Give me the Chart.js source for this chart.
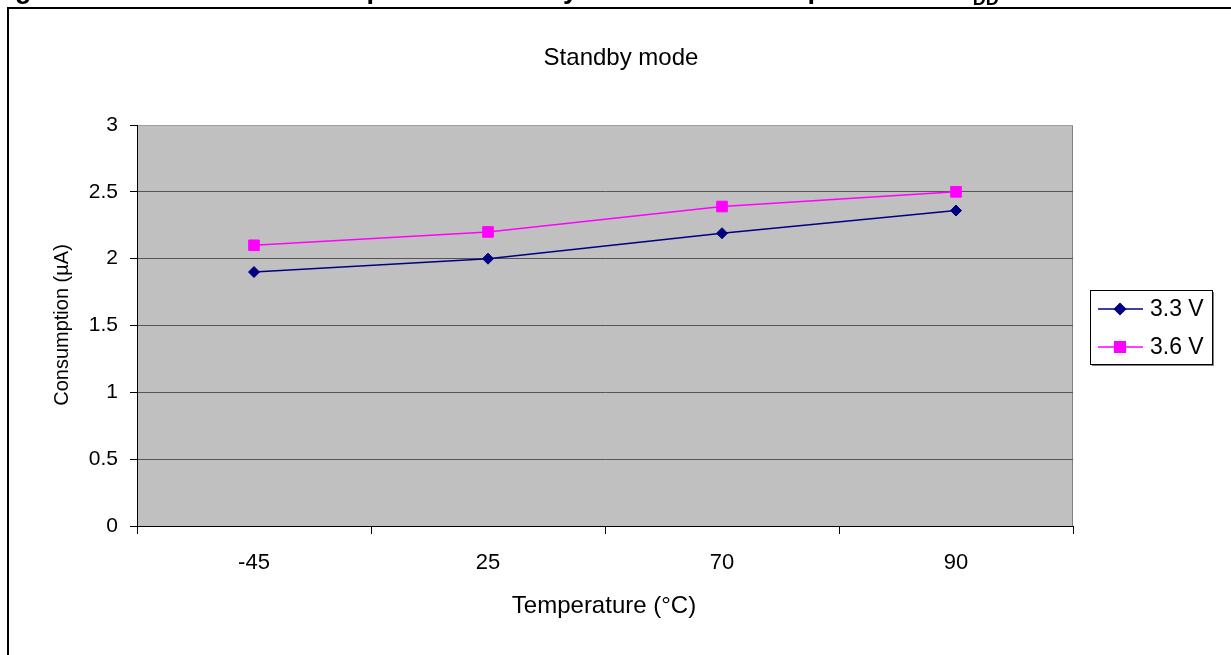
<!DOCTYPE html>
<html>
<head>
<meta charset="utf-8">
<style>
  html, body { margin: 0; padding: 0; background: #fff; overflow: hidden; }
  #wrap { position: relative; width: 1231px; height: 655px; }
  canvas { display: block; }
</style>
<script src="https://cdn.jsdelivr.net/npm/chart.js@4.4.1/dist/chart.umd.min.js"></script>
</head>
<body>
<div id="wrap"><canvas id="chart" width="1231" height="655"></canvas></div>
<script>
const temperatures = ["-45", "25", "70", "90"];
const consumption33 = [1.9, 2.0, 2.19, 2.36];
const consumption36 = [2.1, 2.2, 2.39, 2.5];
const seriesNames = ["3.3 V", "3.6 V"];
const yTicks = [0, 0.5, 1, 1.5, 2, 2.5, 3];
const chartTitle = "Standby mode";
const xTitle = "Temperature (°C)";
const yTitle = "Consumption (µA)";
const captionNumber = "Figure 10.";
const captionText = "Current consumption in Standby mode versus temperature at V";

const FONT = 'Arial, "Liberation Sans", sans-serif';

const frame = {
  id: "frame",
  beforeDraw(chart) {
    const { ctx, chartArea: a } = chart;
    ctx.save();
    ctx.fillStyle = "#fff";
    ctx.fillRect(0, 0, chart.width, chart.height);

    // caption of the page, cut off at the top edge
    ctx.fillStyle = "#000";
    ctx.textBaseline = "alphabetic";
    ctx.textAlign = "left";
    ctx.font = "bold 27px " + FONT;
    ctx.fillText(captionNumber, -9, -2);
    ctx.fillText(captionText, 158, -2);
    const w = ctx.measureText(captionText).width;
    ctx.font = "bold 18px " + FONT;
    ctx.fillText("DD", 158 + w, 5);

    // outer frame
    ctx.fillRect(7, 7, chart.width - 7, 2);
    ctx.fillRect(7, 7, 2, chart.height - 7);

    // plot area
    ctx.fillStyle = "#c0c0c0";
    ctx.fillRect(a.left, a.top, a.right - a.left, a.bottom - a.top);
    ctx.strokeStyle = "#808080";
    ctx.lineWidth = 1;
    ctx.strokeRect(a.left + 0.5, a.top + 0.5, a.right - a.left - 1, a.bottom - a.top);
    ctx.restore();
  },
  afterDraw(chart) {
    const { ctx } = chart;
    ctx.save();
    ctx.fillStyle = "#000";
    ctx.textAlign = "center";
    ctx.textBaseline = "middle";
    ctx.font = "24px " + FONT;
    ctx.fillText(chartTitle, 621, 58);
    ctx.fillText(xTitle, 604, 606);
    ctx.save();
    ctx.translate(62, 325);
    ctx.rotate(-Math.PI / 2);
    ctx.font = "20px " + FONT;
    ctx.fillText(yTitle, 0, 0);
    ctx.restore();

    // legend
    ctx.fillStyle = "#808080";
    ctx.fillRect(1092, 365, 122, 1);
    ctx.fillRect(1213, 292, 1, 74);
    ctx.fillStyle = "#fff";
    ctx.fillRect(1090, 290, 123, 75);
    ctx.strokeStyle = "#000";
    ctx.lineWidth = 1;
    ctx.strokeRect(1090.5, 290.5, 122, 74);
    const rows = [309, 347];
    chart.data.datasets.forEach((ds, i) => {
      const y = rows[i];
      ctx.strokeStyle = ds.borderColor;
      ctx.lineWidth = 1.5;
      ctx.beginPath();
      ctx.moveTo(1098, y);
      ctx.lineTo(1143, y);
      ctx.stroke();
      ctx.fillStyle = ds.pointBackgroundColor;
      ctx.strokeStyle = ds.borderColor;
      Chart.helpers.drawPoint(ctx, {
        pointStyle: ds.pointStyle,
        radius: ds.pointRadius,
        borderWidth: 1,
        rotation: 0
      }, 1120, y);
      ctx.fillStyle = "#000";
      ctx.textAlign = "left";
      ctx.font = "23px " + FONT;
      ctx.fillText(ds.label, 1150, y + 1);
    });
    ctx.restore();
  }
};

new Chart(document.getElementById("chart"), {
  type: "line",
  data: {
    labels: temperatures,
    datasets: [
      {
        label: seriesNames[0],
        data: consumption33,
        borderColor: "#000080",
        backgroundColor: "#000080",
        pointBackgroundColor: "#000080",
        pointBorderColor: "#000080",
        pointStyle: "rectRot",
        pointRadius: 5.5,
        pointBorderWidth: 1,
        borderWidth: 1.5,
        tension: 0
      },
      {
        label: seriesNames[1],
        data: consumption36,
        borderColor: "#ff00ff",
        backgroundColor: "#ff00ff",
        pointBackgroundColor: "#ff00ff",
        pointBorderColor: "#ff00ff",
        pointStyle: "rect",
        pointRadius: 7.5,
        pointBorderWidth: 1,
        borderWidth: 1.5,
        tension: 0
      }
    ]
  },
  options: {
    responsive: false,
    animation: false,
    layout: { padding: { left: 0, right: 158, top: 125, bottom: 0 } },
    plugins: {
      legend: { display: false },
      title: { display: false },
      tooltip: { enabled: false }
    },
    scales: {
      x: {
        type: "category",
        offset: true,
        grid: {
          offset: true,
          drawOnChartArea: false,
          drawTicks: true,
          tickLength: 8,
          tickColor: "#000"
        },
        border: { display: true, color: "#000", width: 1 },
        ticks: {
          color: "#000",
          font: { family: FONT, size: 22 },
          padding: 16,
          maxRotation: 0
        },
        afterFit: (s) => { s.height = 655 - 526; }
      },
      y: {
        min: 0,
        max: 3,
        afterBuildTicks: (s) => { s.ticks = yTicks.map((v) => ({ value: v })); },
        grid: {
          color: (c) => c.tick && c.tick.value === 0 ? "rgba(0,0,0,0)"
            : (c.tick && c.tick.value === 3 ? "#a0a0a0" : "#555555"),
          tickColor: "#000",
          tickLength: 7,
          lineWidth: 1
        },
        border: { display: true, color: "#000", width: 1 },
        ticks: {
          color: "#000",
          font: { family: FONT, size: 21 },
          padding: 12,
          callback: (v) => String(v)
        },
        afterFit: (s) => { s.width = 137; }
      }
    }
  },
  plugins: [frame]
});
</script>
</body>
</html>
